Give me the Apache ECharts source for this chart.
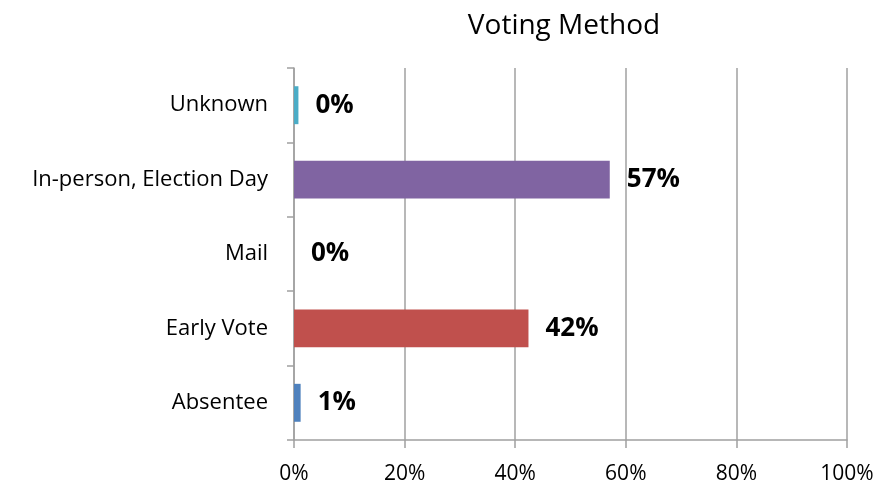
<!DOCTYPE html>
<html><head><meta charset="utf-8">
<script src="https://cdn.jsdelivr.net/npm/echarts@6/dist/echarts.min.js"></script>
<style>html,body{margin:0;padding:0;background:#fff}#c{width:879px;height:486px}</style>
</head><body><div id="c"></div>
<script>
const categories = ['Absentee', 'Early Vote', 'Mail', 'In-person, Election Day', 'Unknown'];
const values = [1.2, 42.4, 0, 57.1, 0.8];
const valueLabels = ['1%', '42%', '0%', '57%', '0%'];
const colors = ['#4F81BD', '#C0504D', '#9BBB59', '#8064A2', '#4BACC6'];
const xTicks = [0, 20, 40, 60, 80, 100];

const chart = echarts.init(document.getElementById('c'));
const font = 'Open Sans';
chart.setOption({
  animation: false,
  title: { text: 'Voting Method', left: 559, top: 7, textAlign: 'center',
    textStyle: { fontFamily: font, fontSize: 28, fontWeight: 'normal', color: '#000' } },
  grid: { left: 294, right: 32, top: 68, bottom: 46, containLabel: false },
  xAxis: { type: 'value', min: 0, max: 100, interval: 20,
    axisLine: { show: true, lineStyle: { color: '#A0A0A0', width: 1.5 } },
    axisTick: { show: true, length: 8, lineStyle: { color: '#A0A0A0', width: 1.5 } },
    splitLine: { show: true, lineStyle: { color: '#A0A0A0', width: 1.5 } },
    axisLabel: { fontFamily: font, fontSize: 21, color: '#000', margin: 24,
      formatter: v => xTicks.includes(v) ? v + '%' : '' } },
  yAxis: { type: 'category', data: categories,
    axisLine: { show: true, lineStyle: { color: '#A0A0A0', width: 1.5 } },
    axisTick: { show: true, length: 7, alignWithLabel: false, lineStyle: { color: '#A0A0A0', width: 1.5 } },
    axisLabel: { fontFamily: font, fontSize: 22, color: '#000', margin: 26 } },
  series: [{ type: 'bar', barWidth: '51%',
    data: values.map((v, i) => ({ value: v, itemStyle: { color: colors[i] } })),
    label: { show: true, position: 'right', distance: 17, fontFamily: font, fontSize: 26, fontWeight: 'bold', color: '#000',
      formatter: p => valueLabels[p.dataIndex] } }]
});
</script></body></html>
